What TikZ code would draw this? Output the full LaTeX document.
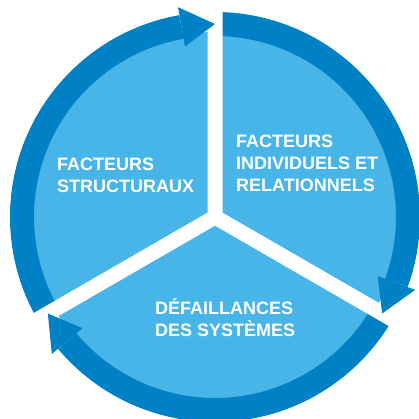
\documentclass[tikz,border=0pt]{standalone}
\usepackage{fontspec}
\setmainfont{Liberation Sans}
\definecolor{sectorblue}{RGB}{71,181,231}
\definecolor{ringblue}{RGB}{0,129,198}

\begin{document}
\begin{tikzpicture}[x=1pt,y=1pt,
  arrowring/.style={ringblue,line width=24pt},
  gapline/.style={white,line width=15pt},
  sectortext/.style={white,font=\bfseries\fontsize{18}{22}\selectfont,align=left,inner sep=0pt,anchor=west}]
\useasboundingbox (-215,-202) rectangle (204,217);

\fill[sectorblue] (0,0) circle (185);

\draw[arrowring] (90:193) arc[start angle=90,end angle=-20,radius=193];
\draw[arrowring] (-30:193) arc[start angle=-30,end angle=-140,radius=193];
\draw[arrowring] (210:193) arc[start angle=210,end angle=100,radius=193];

\coordinate (o) at (0,0);
\coordinate (g1) at (90:215);
\coordinate (g2) at (-30:215);
\coordinate (g3) at (210:215);
\draw[gapline] (o) -- (g1) (o) -- (g2) (o) -- (g3);

\fill[ringblue] (100:213) -- (90:193) -- (100:173) -- cycle;
\fill[ringblue] (-20:213) -- (-30:193) -- (-20:173) -- cycle;
\fill[ringblue] (220:213) -- (210:193) -- (220:173) -- cycle;

\node[sectortext] (individuels) at (21,54) {FACTEURS\\INDIVIDUELS ET\\RELATIONNELS};
\node[sectortext] (structuraux) at (-158,42) {FACTEURS\\STRUCTURAUX};
\node[sectortext] (defaillances) at (-60,-101) {DÉFAILLANCES\\DES SYSTÈMES};
\end{tikzpicture}
\end{document}
